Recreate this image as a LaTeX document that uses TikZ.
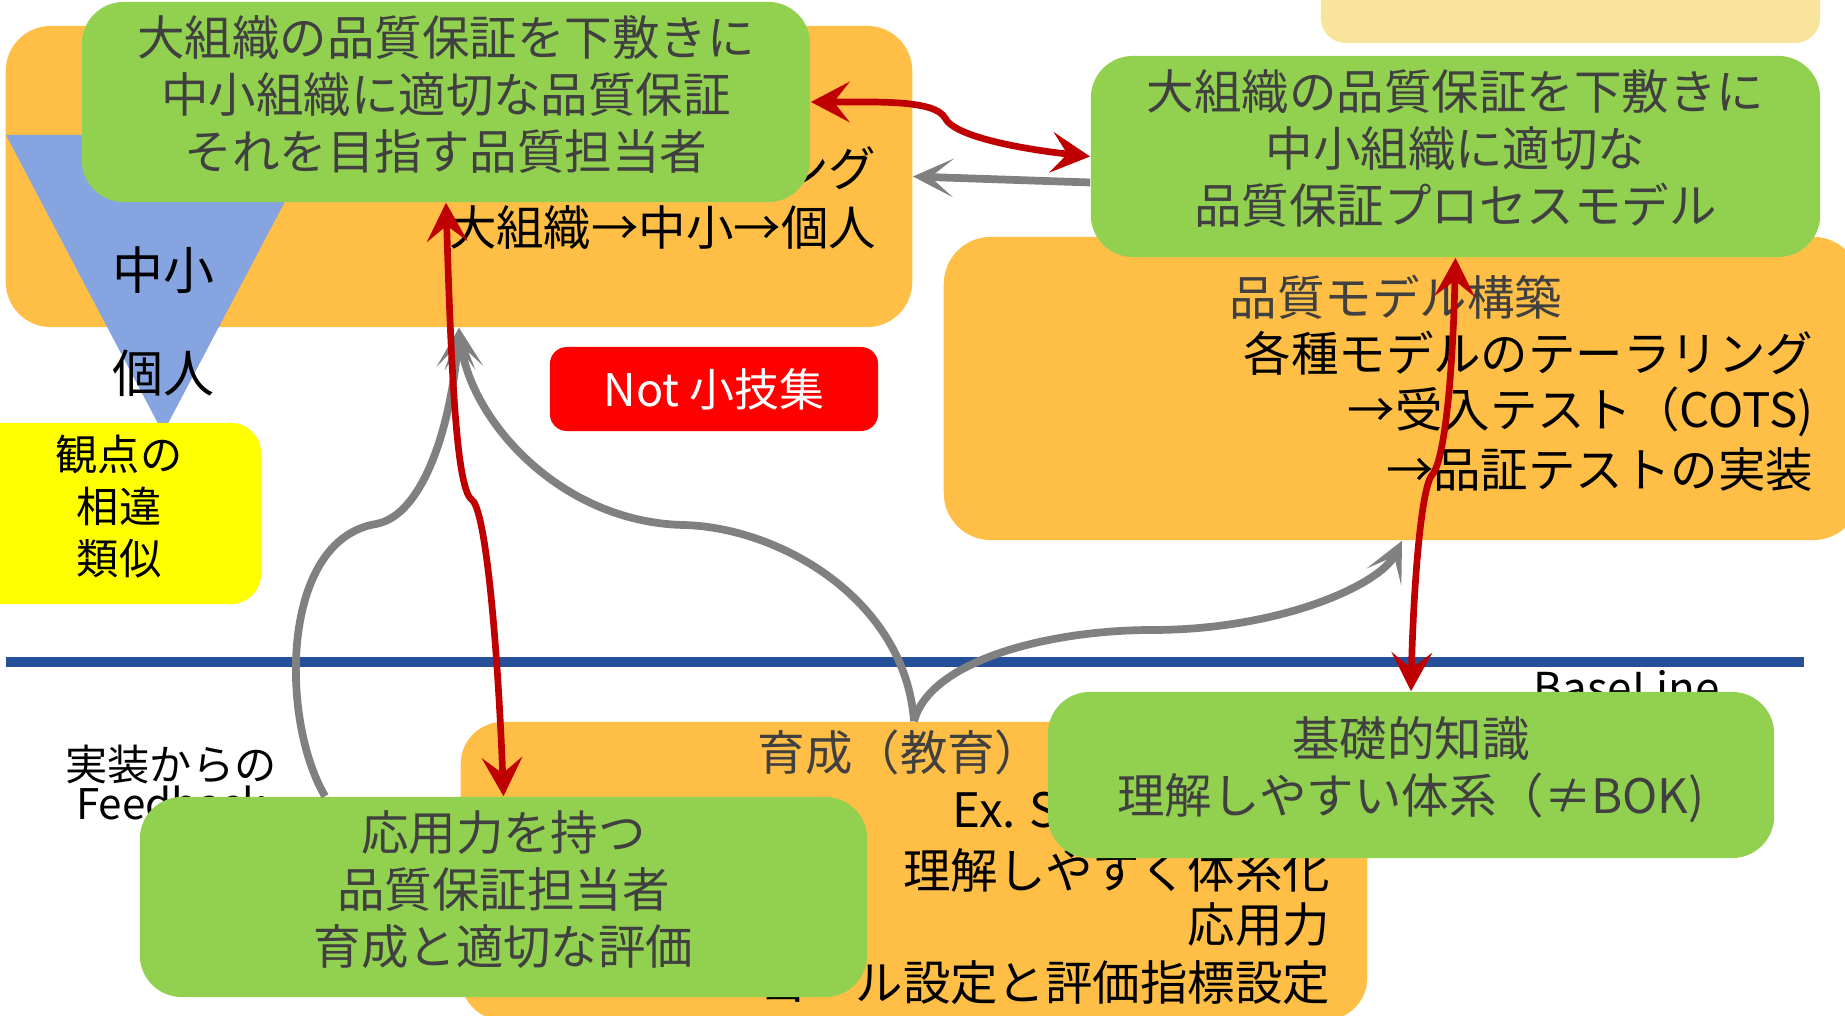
\documentclass[tikz,border=0pt]{standalone}
\usepackage{fontspec}
\setmainfont{Noto Sans CJK JP}
\usetikzlibrary{arrows.meta, positioning}

\begin{document}
\begin{tikzpicture}[x=0.01cm, y=-0.01cm,
    greenbox/.style={fill=qgreen, rounded corners=0.42cm, text=qtext, align=center, inner sep=0pt, text depth=5.5pt, font=\fontsize{13.5}{16.2}\selectfont},
    orangebox/.style={fill=qorange, rounded corners=0.45cm, inner sep=0pt},
    boxtext/.style={inner sep=0pt, font=\fontsize{13.5}{16.2}\selectfont},
    redlink/.style={draw=qdarkred, line width=1.9pt, {Stealth[length=11pt, width=11.5pt, inset=4.5pt]}-{Stealth[length=11pt, width=11.5pt, inset=4.5pt]}},
    greylink/.style={draw=qgrey, line width=2.2pt, -{Stealth[length=11.5pt, width=11pt, inset=6.5pt]}}]

% --- COLOURS ---
\definecolor{qorange}{RGB}{255, 191, 71}   % Orange (topic boxes)
\definecolor{qgreen}{RGB}{146, 208, 80}    % Green (goal boxes)
\definecolor{qblue}{RGB}{133, 164, 224}    % Light blue (scale triangle)
\definecolor{qyellow}{RGB}{255, 255, 0}
\definecolor{qpale}{RGB}{249, 228, 155}
\definecolor{qredbox}{RGB}{255, 0, 0}
\definecolor{qdarkred}{RGB}{192, 0, 0}     % Red links
\definecolor{qgrey}{RGB}{128, 128, 128}    % Grey links
\definecolor{qnavy}{RGB}{38, 79, 153}      % Base line
\definecolor{qtext}{RGB}{64, 64, 64}

\useasboundingbox (0,0) rectangle (1845,1016);
\clip (0,0) rectangle (1845,1016);

% --- TOP LEFT: scale of organisations ---
\node[fill=qpale, rounded corners=0.25cm, minimum width=4.99cm, minimum height=1.03cm, inner sep=0pt] (memo) at (1570.5,-8.5) {};
\node[orangebox, minimum width=9.06cm, minimum height=3.01cm] (tlorange) at (459,176.5) {};
\node[boxtext, anchor=east] (tailing) at (877,168) {ング};
\node[boxtext, anchor=east] (scale) at (877,228) {大組織→中小→個人};

% inverted triangle
\fill[qblue] (6,135) -- (320,135) -- (163,433) -- cycle;
\node[boxtext, font=\fontsize{14.5}{17}\selectfont] (smallorg) at (163,270) {中小};
\node[boxtext, font=\fontsize{14.5}{17}\selectfont] (indiv) at (163,373) {個人};

\node[greenbox, minimum width=7.28cm, minimum height=2cm] (tlgreen) at (446,102) {大組織の品質保証を下敷きに\\中小組織に適切な品質保証\\それを目指す品質担当者};

% --- TOP RIGHT: quality model ---
\node[orangebox, rounded corners=0.47cm, minimum width=9.16cm, minimum height=3.03cm] (rorange) at (1402,388.5) {};
\node[boxtext, text=qtext] (modeltitle) at (1396,297) {品質モデル構築};
\node[boxtext, anchor=east] (tailor) at (1814,353) {各種モデルのテーラリング};
\node[boxtext, anchor=east] (accept) at (1814,412) {→受入テスト（COTS)};
\node[boxtext, anchor=east] (impl) at (1814,470) {→品証テストの実装};

\node[greenbox, minimum width=7.29cm, minimum height=2.01cm] (rgreen) at (1455.5,156.5) {大組織の品質保証を下敷きに\\中小組織に適切な\\品質保証プロセスモデル};

% --- MIDDLE ---
\node[fill=qyellow, rounded corners=0.3cm, minimum width=2.91cm, minimum height=1.81cm, inner sep=0pt] (viewbox) at (115.5,513.5) {};
\node[align=center, inner sep=0pt, font=\fontsize{12}{14.8}\selectfont] (viewtext) at (119,507) {観点の\\相違\\類似};

\node[fill=qredbox, rounded corners=0.17cm, minimum width=3.28cm, minimum height=0.84cm, inner sep=0pt, text=white, font=\fontsize{12.8}{15}\selectfont] (notbox) at (714,389) {Not 小技集};

% base line
\draw[qnavy, line width=0.1cm] (6,662) -- (1804,662);
\node[anchor=base west, inner sep=0pt, font=\fontsize{12.5}{15}\selectfont] (baselabel) at (1533,705) {BaseLine};

% --- BOTTOM: education ---
\node[orangebox, rounded corners=0.42cm, minimum width=9.06cm, minimum height=2.98cm] (borange) at (914,871) {};
\node[boxtext, text=qtext] (edutitle) at (900,752) {育成（教育）};
\node[boxtext, anchor=west] (example) at (952,810) {Ex. S};
\node[boxtext, anchor=east] (system) at (1331,870) {理解しやすく体系化};
\node[boxtext, anchor=east] (applied) at (1331,925) {応用力};
\node[boxtext, anchor=east] (goal) at (1331,982) {ゴール設定と評価指標設定};

\node[align=center, inner sep=0pt, font=\fontsize{12}{11.1}\selectfont] (feedback) at (171,783) {実装からの\\Feedback};

\node[greenbox, minimum width=7.27cm, minimum height=2cm] (blgreen) at (503.5,897) {応用力を持つ\\品質保証担当者\\育成と適切な評価};
\node[greenbox, minimum width=7.26cm, minimum height=1.66cm] (brgreen) at (1411,775) {基礎的知識\\理解しやすい体系（≠BOK)};

% --- GREY LINKS ---
\draw[greylink] ([shift={(0,26)}]rgreen.west) -- (tlorange.east);
\draw[greylink] ([shift={(186,0)}]blgreen.north west) .. controls (280,720) and (280,540) .. (376,524)
    .. controls (425,515) and (452,420) .. (tlorange.south);
\draw[greylink] (borange.north) .. controls (905,600) and (780,527) .. (683,525)
    .. controls (560,522) and (470,420) .. (tlorange.south);
\draw[greylink] (borange.north) .. controls (930,660) and (1050,630) .. (1152,630)
    .. controls (1280,630) and (1380,585) .. (rorange.south);

% --- RED LINKS ---
\draw[redlink] (tlgreen.east) .. controls (880,102) and (935,100) .. (945,118)
    .. controls (955,138) and (1030,150) .. (rgreen.west);
\draw[redlink] (tlgreen.south) .. controls (452,400) and (458,490) .. (472,500)
    .. controls (486,510) and (498,650) .. (blgreen.north);
\draw[redlink] (rgreen.south) .. controls (1452,400) and (1442,465) .. (1432,475)
    .. controls (1420,490) and (1413,600) .. (brgreen.north);

\end{tikzpicture}
\end{document}
